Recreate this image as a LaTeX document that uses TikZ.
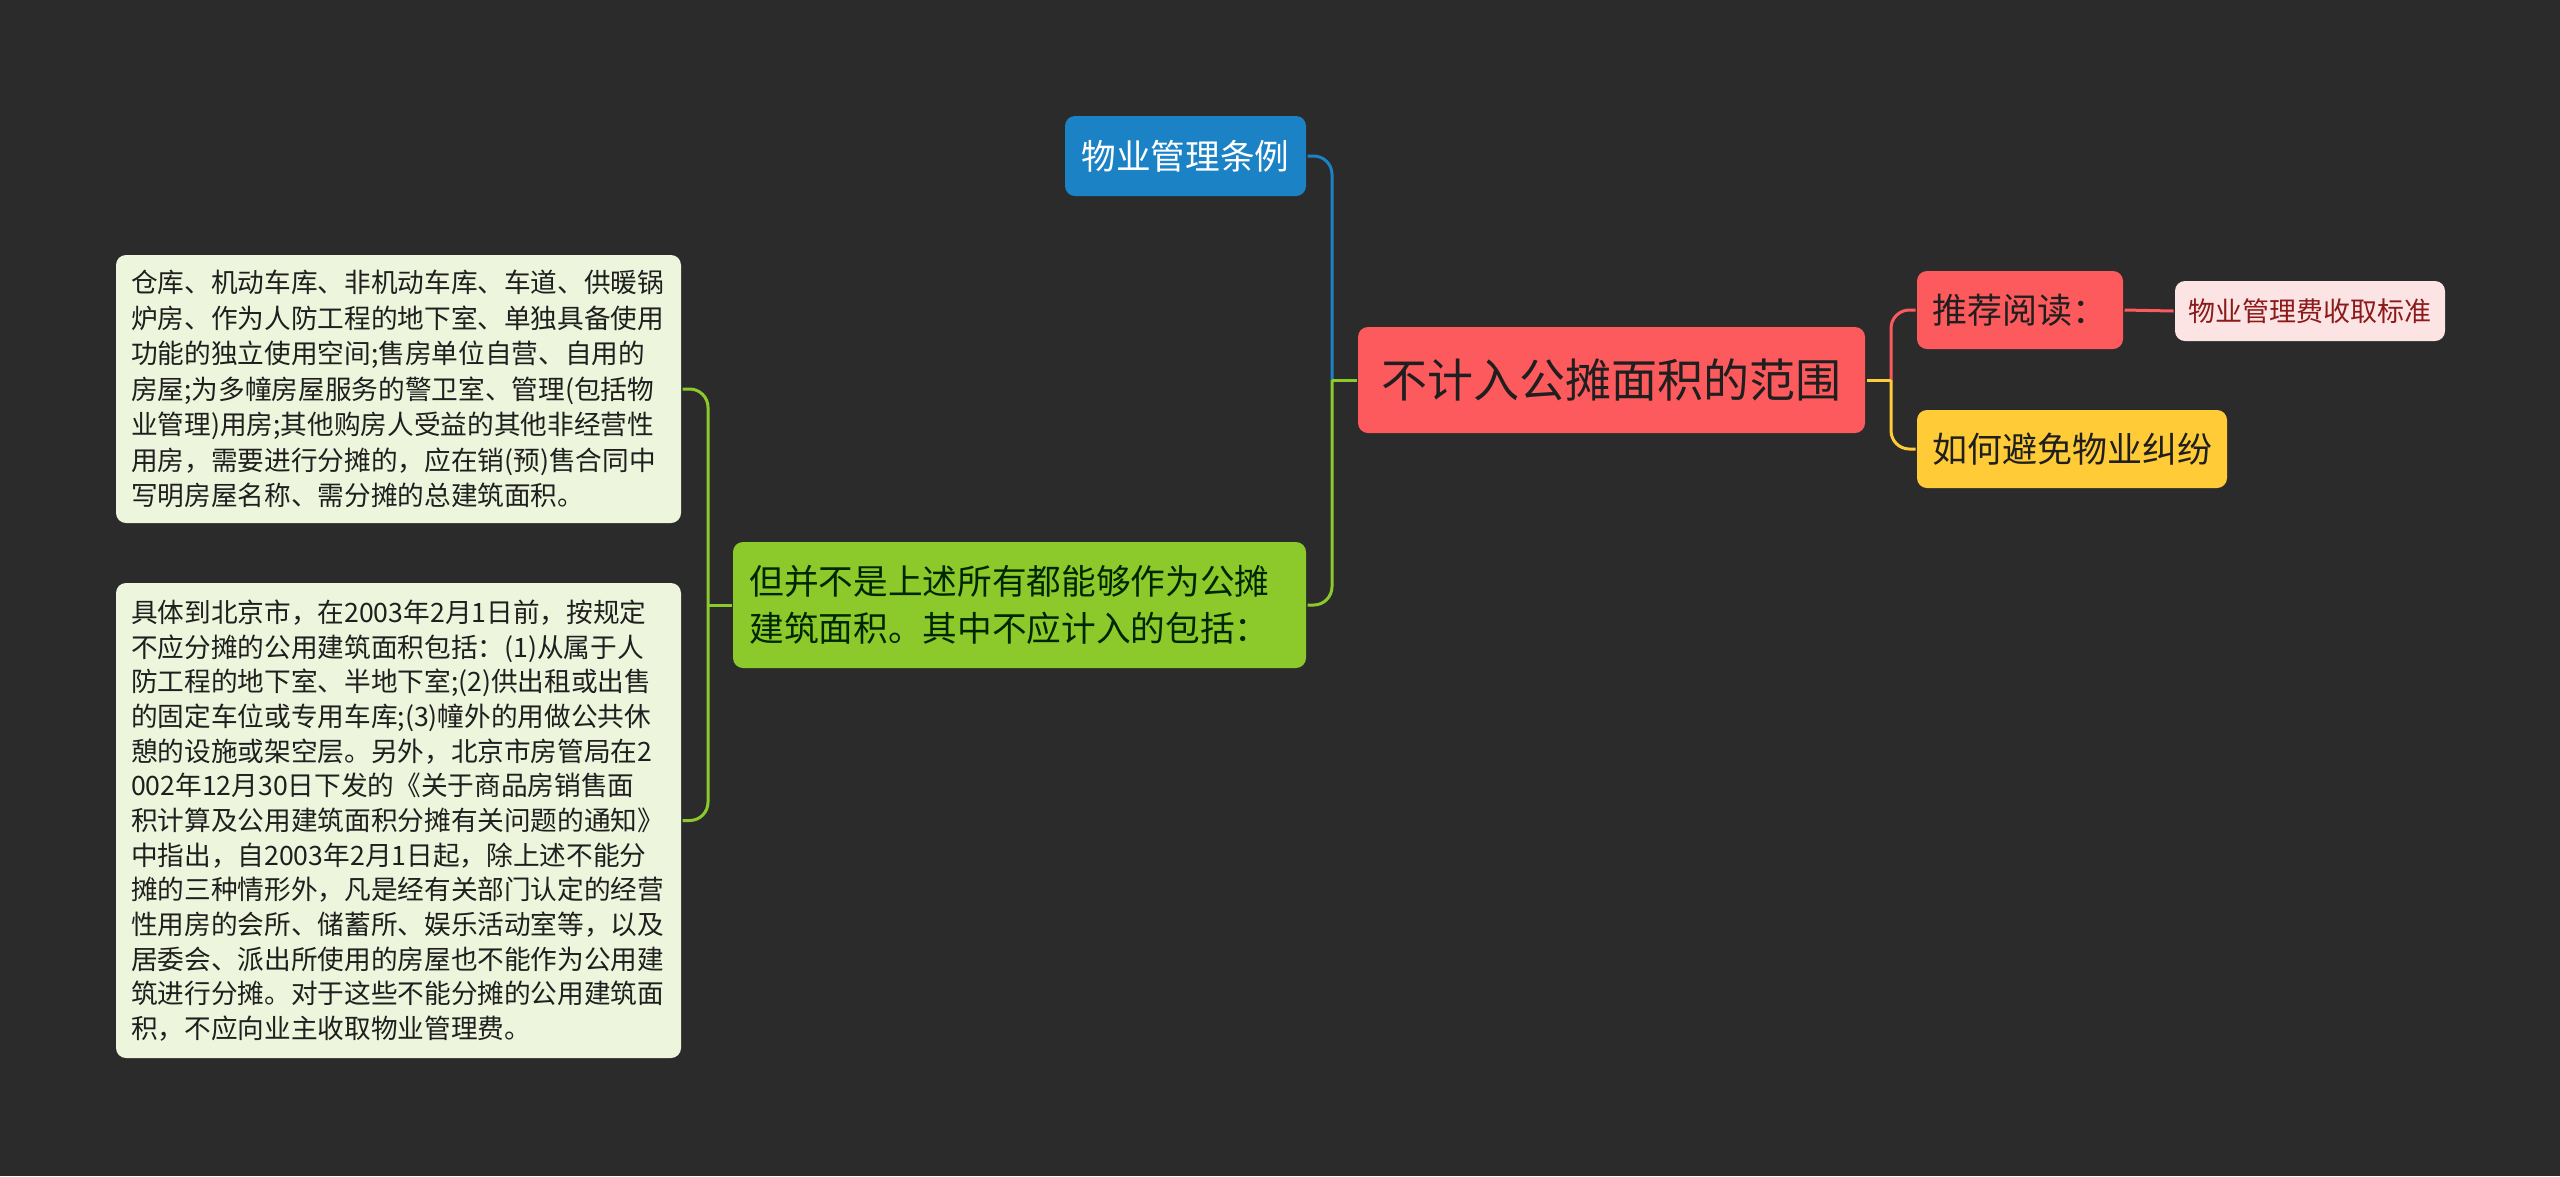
\documentclass[tikz,border=0pt]{standalone}
\usepackage{fontspec}
\setmainfont{Noto Sans CJK SC}
\definecolor{bgc}{HTML}{2B2B2B}
\definecolor{rootred}{HTML}{FD5A5E}
\definecolor{mblue}{HTML}{1B82C6}
\definecolor{mgreen}{HTML}{8CC92A}
\definecolor{lgreen}{HTML}{EDF6DC}
\definecolor{myellow}{HTML}{FFCC38}
\definecolor{mpink}{HTML}{FDE4E4}
\definecolor{feetext}{HTML}{8B1A1A}
\begin{document}
\begin{tikzpicture}[x=0.3pt,y=-0.3pt,line width=0.9pt,
	box/.style={rounded corners=3pt,inner sep=0pt,text=black!88},
	link/.style={rounded corners=5.5pt}]
	\fill[bgc] (0,0) rectangle (2560,1176);
	% nodes
	\node[box,fill=rootred,minimum width=152.1pt,minimum height=31.8pt,font=\fontsize{13.8}{16}\selectfont] (root) at (1611.5,380) {不计入公摊面积的范围};
	\node[box,fill=mblue,text=white,minimum width=72.3pt,minimum height=24pt,font=\fontsize{10.4}{13}\selectfont] (tiaoli) at (1185.5,156) {物业管理条例};
	\node[box,fill=mgreen,text=black!85!green,minimum height=37.8pt,inner xsep=4.95pt,text width=162pt,align=left,font=\fontsize{10.4}{14.2}\selectfont] (bufen) at (1019.5,605) {但并不是上述所有都能够作为公摊\\建筑面积。其中不应计入的包括：};
	\node[box,fill=lgreen,minimum height=80.4pt,inner xsep=4.5pt,text width=160.5pt,align=left,font=\fontsize{8}{10.65}\selectfont] (kuA) at (398.5,389) {仓库、机动车库、非机动车库、车道、供暖锅\\炉房、作为人防工程的地下室、单独具备使用\\功能的独立使用空间;售房单位自营、自用的\\房屋;为多幢房屋服务的警卫室、管理(包括物\\业管理)用房;其他购房人受益的其他非经营性\\用房，需要进行分摊的，应在销(预)售合同中\\写明房屋名称、需分摊的总建筑面积。};
	\node[box,fill=lgreen,minimum height=142.5pt,inner xsep=4.5pt,text width=160.5pt,align=left,font=\fontsize{8}{10.4}\selectfont] (kuB) at (398.5,820.5) {具体到北京市，在2003年2月1日前，按规定\\不应分摊的公用建筑面积包括：(1)从属于人\\防工程的地下室、半地下室;(2)供出租或出售\\的固定车位或专用车库;(3)幢外的用做公共休\\憩的设施或架空层。另外，北京市房管局在2\\002年12月30日下发的《关于商品房销售面\\积计算及公用建筑面积分摊有关问题的通知》\\中指出，自2003年2月1日起，除上述不能分\\摊的三种情形外，凡是经有关部门认定的经营\\性用房的会所、储蓄所、娱乐活动室等，以及\\居委会、派出所使用的房屋也不能作为公用建\\筑进行分摊。对于这些不能分摊的公用建筑面\\积，不应向业主收取物业管理费。};
	\node[box,fill=rootred,minimum width=61.8pt,minimum height=23.4pt,font=\fontsize{10.5}{13}\selectfont] (tuijian) at (2020,310) {推荐阅读：};
	\node[box,fill=myellow,minimum width=93pt,minimum height=23.4pt,font=\fontsize{10.5}{13}\selectfont] (jiufen) at (2072,449) {如何避免物业纠纷};
	\node[box,fill=mpink,text=feetext,minimum width=81pt,minimum height=18pt,font=\fontsize{8.1}{10}\selectfont] (feiyong) at (2310,311) {物业管理费收取标准};
	% links
	\coordinate (tl) at (1332,380);
	\coordinate (tr) at (1891,380);
	\coordinate (tm) at (708,605);
	\draw[link,mblue] (tiaoli.east) -| (tl);
	\draw[link,mgreen] (bufen.east) -| (tl);
	\draw[mgreen] (tl) -- (root.west);
	\draw[link,mgreen] (kuA.east) -| (tm);
	\draw[link,mgreen] (kuB.east) -| (tm);
	\draw[mgreen] (tm) -- (bufen.west);
	\draw[link,rootred] (tuijian.west) -| (tr);
	\draw[link,myellow] (jiufen.west) -| (tr);
	\draw[myellow] (tr) -- (root.east);
	\draw[rootred] (tuijian.east) -- (feiyong.west);
\end{tikzpicture}
\end{document}
